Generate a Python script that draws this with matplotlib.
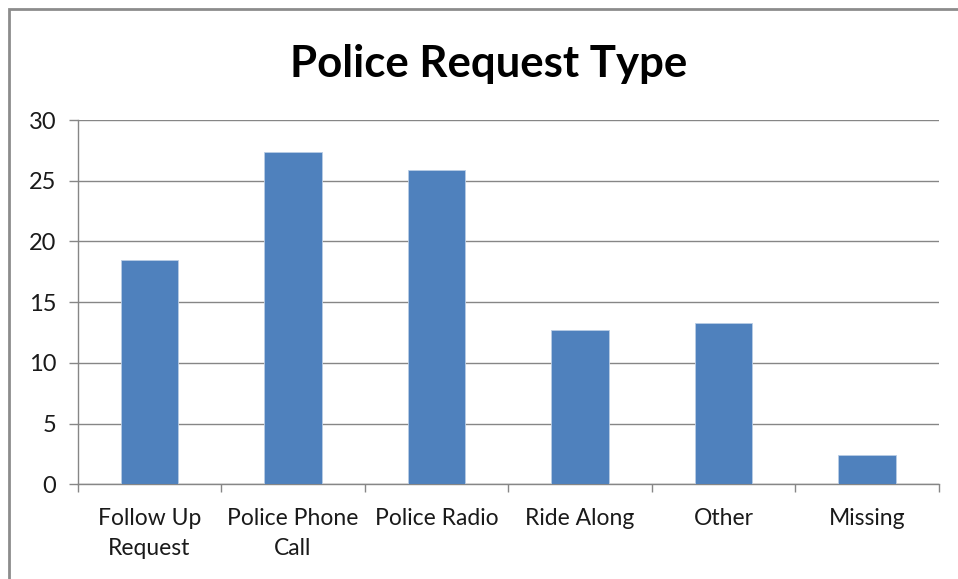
import matplotlib.pyplot as plt
from matplotlib.patches import Rectangle
import numpy as np

categories = ["Follow Up\nRequest", "Police Phone\nCall", "Police Radio",
              "Ride Along", "Other", "Missing"]
values = [18.5, 27.4, 25.9, 12.7, 13.3, 2.4]
y_ticks = [0, 5, 10, 15, 20, 25, 30]

plt.rcParams['font.family'] = ['Lato', 'DejaVu Sans']

W, H = 958, 579
fig = plt.figure(figsize=(W / 100, H / 100), dpi=100)
fig.patch.set_facecolor('white')

# outer chart frame
fig.patches.append(Rectangle((8.5 / W, -0.05), 1.1, (H - 8.5) / H + 0.05,
                             transform=fig.transFigure, fill=False,
                             edgecolor='#8c8c8c', linewidth=2.0))

ax = fig.add_axes([77.7 / W, 1 - 484.3 / H, 861 / W, 364.3 / H])
x = np.arange(len(categories))
ax.bar(x, values, width=0.4, color='#4F81BD', edgecolor='#b9cde5',
       linewidth=0.6, zorder=3)

ax.set_xlim(-0.5, len(categories) - 0.5)
ax.set_ylim(0, 30)
ax.set_yticks(y_ticks)
ax.yaxis.grid(True, color='#868686', linewidth=1.0, zorder=0)

ax.set_xticks(x)
ax.set_xticklabels(categories, fontsize=16.5, color='#1a1a1a', linespacing=1.55)
ax.set_xticks(np.arange(len(categories) + 1) - 0.5, minor=True)
ax.tick_params(axis='x', which='major', length=0, pad=17)
ax.tick_params(axis='x', which='minor', length=6, color='#868686', width=1.0,
               direction='out')
ax.tick_params(axis='y', length=6.5, color='#868686', width=1.0, direction='out',
               labelsize=17, labelcolor='#1a1a1a', pad=9)

for side in ['top', 'right']:
    ax.spines[side].set_visible(False)
for side in ['left', 'bottom']:
    ax.spines[side].set_color('#868686')
    ax.spines[side].set_linewidth(1.0)

fig.text(489 / W, 1 - 77 / H, "Police Request Type", ha='center', va='baseline',
         fontsize=31.5, fontweight='bold', color='black')

fig.savefig('out.png', dpi=100, facecolor='white')
